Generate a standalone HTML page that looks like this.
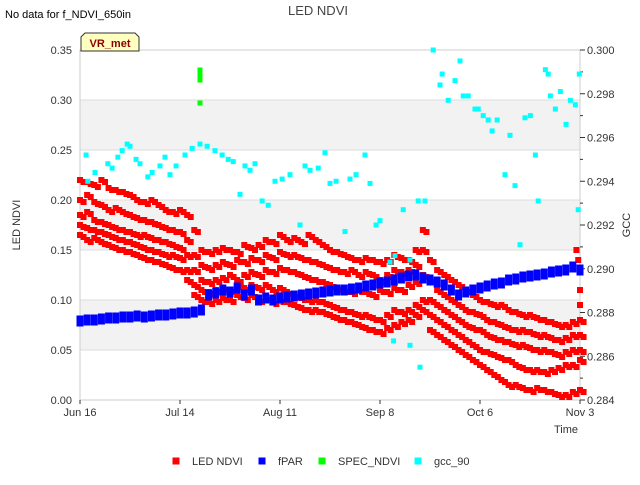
<!DOCTYPE html>
<html><head><meta charset="utf-8"><style>
body{margin:0;background:#fff;font-family:"Liberation Sans",sans-serif}
svg text{font-family:"Liberation Sans",sans-serif}
</style></head><body>
<svg id="c" width="640" height="480" xmlns="http://www.w3.org/2000/svg"></svg>
<script>
const dateLabels=["Jun 16","Jul 14","Aug 11","Sep 8","Oct 6","Nov 3"];
const dateDays=[0,28,56,84,112,140];
const leftTicks=[0,0.05,0.10,0.15,0.20,0.25,0.30,0.35];
const rightTicks=[0.284,0.286,0.288,0.290,0.292,0.294,0.296,0.298,0.300];
const ledA=[.22,.218,.215,.22,.212,.21,.208,.205,.20,.198,.20,.195,.19,.188,.19,.185,.17,.15,.148,.15,.152,.15,.148,.155,.152,.155,.16,.158,.165,.16,.162,.158,.165,.16,.155,.15,.148,.145,.142,.14,.142,.14,.138,.14,.145,.142,.14,.15,.17,.14,.13,.125,.12,.115,.11,.105,.10,.098,.095,.095,.09,.088,.085,.085,.082,.08,.078,.075,.075,.078,.08];
const ledB=[.20,.205,.198,.195,.19,.192,.188,.185,.182,.18,.178,.175,.172,.17,.168,.16,.145,.135,.132,.135,.138,.135,.14,.138,.142,.14,.145,.142,.148,.145,.145,.142,.14,.138,.135,.132,.13,.128,.13,.125,.128,.125,.12,.125,.13,.128,.13,.135,.15,.12,.11,.105,.10,.095,.09,.088,.085,.08,.078,.075,.072,.07,.07,.068,.065,.065,.062,.06,.062,.065,.065];
const ledC=[.185,.188,.18,.178,.175,.172,.17,.168,.165,.165,.162,.16,.158,.155,.152,.145,.13,.12,.118,.12,.122,.125,.12,.125,.128,.125,.13,.128,.132,.13,.128,.125,.122,.12,.118,.115,.112,.11,.108,.11,.108,.105,.11,.108,.112,.11,.115,.118,.125,.10,.095,.09,.085,.08,.075,.072,.07,.065,.062,.06,.058,.055,.055,.052,.05,.05,.048,.045,.048,.05,.05];
const ledD=[.175,.172,.17,.168,.165,.162,.16,.158,.155,.152,.15,.148,.145,.145,.142,.13,.115,.11,.108,.11,.112,.11,.115,.112,.115,.112,.115,.11,.112,.108,.105,.102,.10,.10,.098,.095,.092,.09,.088,.085,.085,.082,.08,.085,.09,.088,.09,.095,.10,.085,.08,.075,.07,.065,.06,.055,.05,.048,.045,.042,.04,.035,.032,.03,.03,.028,.03,.032,.035,.035,.04];
const ledE=[.165,.16,.162,.158,.155,.152,.15,.148,.145,.142,.14,.138,.135,.132,.13,.12,.105,.10,.098,.10,.102,.10,.105,.102,.105,.10,.102,.098,.10,.098,.095,.092,.09,.09,.088,.085,.082,.08,.078,.075,.072,.07,.068,.072,.075,.078,.08,.085,.09,.07,.065,.06,.055,.05,.045,.04,.035,.03,.025,.02,.015,.015,.012,.01,.012,.01,.008,.005,.005,.008,.01];
const ledExtraDays=[139,139.5,140,140];
const ledExtraVals=[0.15,0.14,0.11,0.095];
const fpar=[.079,.08,.08,.081,.082,.082,.083,.083,.084,.083,.084,.085,.085,.086,.087,.087,.088,.09,.105,.107,.11,.108,.112,.105,.11,.1,.102,.1,.102,.103,.104,.105,.106,.107,.108,.109,.11,.11,.111,.112,.114,.115,.117,.118,.12,.122,.124,.125,.122,.12,.118,.115,.11,.105,.108,.11,.112,.114,.116,.117,.12,.121,.123,.124,.125,.126,.128,.129,.13,.133,.13];
const specDays=[33.6,33.6,33.6,33.6];
const specVals=[0.33,0.325,0.32,0.297];
const gccDays=[1.7,2.2,4.2,7.8,9,10.6,11.8,13.2,14,15.7,16.8,19,20.2,22.4,23.8,25.2,26.9,29.4,31.4,33.6,35.6,37.8,39.8,41.5,42.9,44.8,46.2,47.6,49,51,52.7,54.6,56.6,58.8,61.6,63,64.4,66.7,68.6,70,71.7,74.2,75.6,77.3,79.8,81.2,82.9,84,86.8,88.2,90.5,92.4,94.7,96.6,98.9,100.8,101.4,103.1,105,106.4,107.3,108.7,110.6,111.5,112.9,114.3,115.4,116.8,119,120.4,121.8,123.2,124.6,126.1,127.5,128.3,130.3,131.1,131.7,133.1,134.5,136.1,137.3,138.7,139.5,139.8,95.2,92.4,87.8];
const gccVals=[.2952,.294,.2944,.2948,.2946,.2951,.2954,.2957,.2956,.295,.2948,.2942,.2944,.2947,.2951,.2943,.2947,.2952,.2955,.2957,.2956,.2954,.2952,.295,.2949,.2934,.2947,.2945,.2948,.2931,.2929,.294,.2941,.2943,.292,.2947,.2945,.2946,.2953,.2939,.294,.2917,.2941,.2943,.2952,.2939,.292,.2922,.2903,.2906,.2927,.2904,.2931,.2931,.3,.2984,.2989,.2977,.2986,.2995,.2979,.2979,.2973,.2973,.297,.2968,.2963,.2968,.2943,.2961,.2938,.2911,.2969,.297,.2952,.2931,.2991,.2989,.2979,.2973,.2981,.2966,.2977,.2975,.2927,.2989,.2855,.2865,.2867];

const NS="http://www.w3.org/2000/svg";
const svg=document.getElementById('c');
const X0=80,X1=580,Y0=50,Y1=400;
const xs=d=>X0+d*(X1-X0)/140;
const yl=v=>Y1-v/0.35*(Y1-Y0);
const yr=v=>Y1-(v-0.284)/0.016*(Y1-Y0);
function mk(tag,attrs,parent){const e=document.createElementNS(NS,tag);for(const k in attrs)e.setAttribute(k,attrs[k]);(parent||svg).appendChild(e);return e;}
function txt(s,attrs,parent){const e=mk('text',attrs,parent);e.textContent=s;return e;}

for(let i=0;i<7;i++){
  const band=mk('rect',{x:X0,y:yl(leftTicks[i+1]),width:X1-X0,height:50,fill:(i%2==1)?'#f2f2f2':'#fff'});
  
  
}
leftTicks.forEach(t=>{
  const g=mk('line',{x1:X0,x2:X1,y1:yl(t),y2:yl(t),stroke:'#dcdcdc','stroke-width':1});
  
  
});
const frame=mk('rect',{x:X0,y:Y0,width:X1-X0,height:Y1-Y0,fill:'none',stroke:'#ccc'});



leftTicks.forEach(t=>{
  const l=txt(t.toFixed(2),{x:72,y:yl(t)+4,'text-anchor':'end','font-size':11,fill:'#333'});
  
  
});
rightTicks.forEach((t,i)=>{
  const y=yr(t);
  const tk=mk('line',{x1:X1,x2:X1+5,y1:y,y2:y,stroke:'#333'});
  
  
  const l=txt(t.toFixed(3),{x:587,y:y+4,'font-size':11,fill:'#333'});
  
  
  if(i<rightTicks.length-1){
    const m=mk('line',{x1:X1,x2:X1+3,y1:y-21.875,y2:y-21.875,stroke:'#333'});
    
    
  }
});
dateDays.forEach((d,i)=>{
  const tk=mk('line',{x1:xs(d),x2:xs(d),y1:Y1,y2:Y1+4,stroke:'#333'});
  
  
  const l=txt(dateLabels[i],{x:xs(d),y:416,'text-anchor':'middle','font-size':11,fill:'#333'});
  
  
});

function pt(x,y,col,w,h,name){
  const r=mk('rect',{x:x-w/2,y:y-h/2,width:w,height:h,fill:col});
  
  
}
[ledA,ledB,ledC,ledD,ledE].forEach(arr=>arr.forEach((v,i)=>{pt(xs(i*2),yl(v),'#f00',6,6,'led-ndvi-point');pt(xs(i*2+1),yl(v-0.002),'#f00',6,6,'led-ndvi-point');}));
ledExtraDays.forEach((d,i)=>pt(xs(d),yl(ledExtraVals[i]),'#f00',6,6,'led-ndvi-point'));
fpar.forEach((v,i)=>{pt(xs(i*2),yl(v),'#00f',7,11,'fpar-point');});
specDays.forEach((d,i)=>pt(xs(d),yl(specVals[i]),'#0f0',5,5,'spec-ndvi-point'));
gccDays.forEach((d,i)=>pt(xs(d),yr(gccVals[i]),'#0ff',5,5,'gcc90-point'));

let t=txt('LED NDVI',{x:318,y:15,'text-anchor':'middle','font-size':13,fill:'#444'});

t=txt('No data for f_NDVI_650in',{x:5,y:18,'font-size':11,fill:'#000'});

t=txt('LED NDVI',{x:20,y:225,'text-anchor':'middle','font-size':11,fill:'#333',transform:'rotate(-90 20 225)'});

t=txt('GCC',{x:630,y:225,'text-anchor':'middle','font-size':11,fill:'#333',transform:'rotate(-90 630 225)'});

t=txt('Time',{x:578,y:433,'text-anchor':'end','font-size':11,fill:'#333'});


const vb=mk('path',{d:'M81 51 V37 L85 33 H135 L139 37 V51 Z',fill:'#ffffc0',stroke:'#333'});

t=txt('VR_met',{x:110,y:47,'text-anchor':'middle','font-size':11,'font-weight':'bold',fill:'#8b0000'});


const legend=[["LED NDVI","#f00",176],["fPAR","#00f",262],["SPEC_NDVI","#0f0",322],["gcc_90","#0ff",418]];
legend.forEach(l=>{
  pt(l[2],461,l[1],7,7,'legend-marker');
  const e=txt(l[0],{x:l[2]+16,y:465,'font-size':11,fill:'#333'});
  
  
});
</script>
</body></html>
